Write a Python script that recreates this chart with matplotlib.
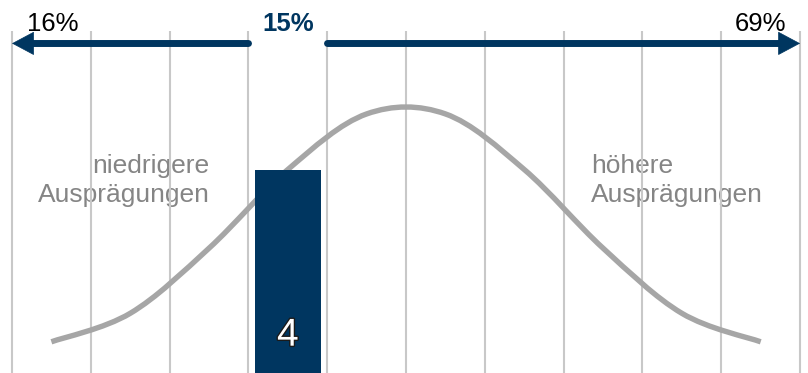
import numpy as np
import matplotlib
matplotlib.use('Agg')
import matplotlib.pyplot as plt
from matplotlib.path import Path
from matplotlib.patches import PathPatch
import matplotlib.patheffects as pe

plt.rcParams['font.family'] = ['Liberation Sans', 'DejaVu Sans']

# Sten-Verteilung (Prozent je Stufe 1..10)
sten = [1, 2, 3, 4, 5, 6, 7, 8, 9, 10]
pct = [2.3, 4.4, 9.2, 15.0, 19.1, 19.1, 15.0, 9.2, 4.4, 2.3]
score = 4
top_labels = ['16%', '15%', '69%']
low_text = 'niedrigere\nAusprägungen'
high_text = 'höhere\nAusprägungen'

navy = '#003660'
grey_line = '#a6a6a6'
grey_text = '#858585'

fig = plt.figure(figsize=(8.08, 3.73), dpi=100)
ax = fig.add_axes([0, 0, 1, 1])
ax.set_xlim(-0.152, 10.1)
ax.set_ylim(0, 27.5)
ax.axis('off')

# vertikale Trennlinien
ax.vlines(np.arange(0, 11), 0, 25.2, color='#c8c8c8', lw=1.5, zorder=1)

# geglaettete Kurve (Bezier durch die Stufenmitten)
xs = np.array(sten) - 0.5
ys = np.array(pct)
verts = [(xs[0], ys[0])]
codes = [Path.MOVETO]
n = len(xs)
for i in range(n - 1):
    p0 = (xs[max(i - 1, 0)], ys[max(i - 1, 0)])
    p1 = (xs[i], ys[i])
    p2 = (xs[i + 1], ys[i + 1])
    p3 = (xs[min(i + 2, n - 1)], ys[min(i + 2, n - 1)])
    c1 = (p1[0] + (p2[0] - p0[0]) / 6, p1[1] + (p2[1] - p0[1]) / 6)
    c2 = (p2[0] - (p3[0] - p1[0]) / 6, p2[1] - (p3[1] - p1[1]) / 6)
    verts += [c1, c2, p2]
    codes += [Path.CURVE4] * 3
ax.add_patch(PathPatch(Path(verts, codes), fill=False, ec=grey_line,
                       lw=3.9, capstyle='butt', zorder=2))

# Balken fuer den eigenen Wert
ax.bar(score - 0.5, pct[score - 1], width=0.83, color=navy, zorder=3)
ax.text(score - 0.5, 2.75, str(score), ha='center', va='center', fontsize=28,
        color='white', zorder=4,
        path_effects=[pe.withStroke(linewidth=2, foreground='#1a1a1a')])

# Pfeile oben
ya = 24.3
head = dict(arrowstyle='-|>,head_length=1.5,head_width=0.8', color=navy,
            lw=0.5, joinstyle='miter', shrinkA=0, shrinkB=0, mutation_scale=10)
ax.plot([score - 1, 0.2], [ya, ya], color=navy, lw=5, solid_capstyle='round', zorder=3)
ax.annotate('', xy=(0, ya), xytext=(0.3, ya), arrowprops=head, zorder=3)
ax.plot([score, 9.8], [ya, ya], color=navy, lw=5, solid_capstyle='round', zorder=3)
ax.annotate('', xy=(10, ya), xytext=(9.7, ya), arrowprops=head, zorder=3)

ax.text(0.19, 25.75, top_labels[0], ha='left', va='center', fontsize=18.5, color='black')
ax.text(score - 0.5, 25.75, top_labels[1], ha='center', va='center', fontsize=18.5,
        color=navy, fontweight='bold')
ax.text(9.83, 25.75, top_labels[2], ha='right', va='center', fontsize=18.5, color='black')

ax.text(2.51, 14.2, low_text, ha='right', va='center', multialignment='right',
        fontsize=19, color=grey_text, linespacing=1.25, zorder=0)
ax.text(7.35, 14.2, high_text, ha='left', va='center', multialignment='left',
        fontsize=19, color=grey_text, linespacing=1.25, zorder=0)

fig.savefig('out.png', dpi=100)
